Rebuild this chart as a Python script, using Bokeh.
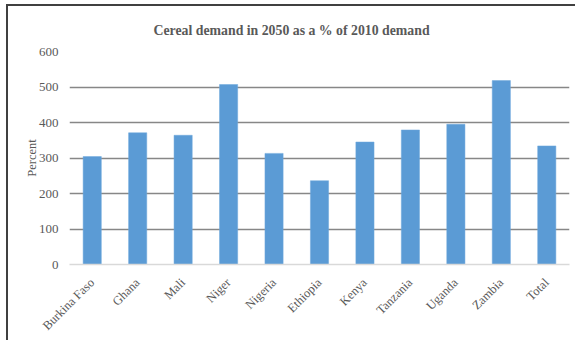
from bokeh.plotting import figure
from bokeh.models import Range1d, FixedTicker, ColumnDataSource
from bokeh.embed import file_html
from bokeh.resources import INLINE
import math

countries = ["Burkina Faso", "Ghana", "Mali", "Niger", "Nigeria", "Ethiopia",
             "Kenya", "Tanzania", "Uganda", "Zambia", "Total"]
demand_pct = [304, 371, 364, 507, 313, 236, 345, 379, 395, 518, 334]
y_ticks = [0, 100, 200, 300, 400, 500, 600]
title_text = "Cereal demand in 2050 as a % of 2010 demand"

FONT = "Liberation Serif"
TXT = "#595959"

src = ColumnDataSource(dict(country=countries, pct=demand_pct))

# chart box: framed along the top and left edges
p = figure(width=569, height=336, x_range=countries, y_range=Range1d(0, 600),
           output_backend="svg", toolbar_location=None,
           min_border_left=61, min_border_right=8, min_border_top=45,
           min_border_bottom=78,
           styles={"margin-left": "6px", "margin-top": "4px",
                   "border-top": "2px solid #404040",
                   "border-left": "2px solid #404040"})

p.vbar(x="country", top="pct", width=0.4, source=src,
       fill_color="#5b9bd5", line_color="#6fa8dc", line_width=0.5)

p.title.text = title_text
p.title.align = "left"
p.title.offset = 84
p.title.standoff = 28
p.title.text_font = FONT
p.title.text_font_size = "13.8px"
p.title.text_line_height = 0.8
p.title.text_color = TXT
p.title.text_font_style = "bold"

p.x_range.range_padding = 0
p.outline_line_color = None
p.background_fill_color = "white"

p.yaxis.ticker = FixedTicker(ticks=y_ticks)
p.yaxis.axis_line_color = None
p.yaxis.major_tick_line_color = None
p.yaxis.minor_tick_line_color = None
p.yaxis.major_label_text_font = FONT
p.yaxis.major_label_text_font_size = "13px"
p.yaxis.major_label_text_color = TXT
p.yaxis.major_label_standoff = 5
p.yaxis.axis_label = "Percent"
p.yaxis.axis_label_text_font = FONT
p.yaxis.axis_label_text_font_size = "12.5px"
p.yaxis.axis_label_text_font_style = "normal"
p.yaxis.axis_label_text_color = TXT
p.yaxis.axis_label_standoff = -3

p.xaxis.axis_line_color = "#d9d9d9"
p.xaxis.axis_line_width = 1.5
p.xaxis.major_tick_line_color = None
p.xaxis.minor_tick_line_color = None
p.xaxis.major_label_orientation = math.pi / 4
p.xaxis.major_label_text_font = FONT
p.xaxis.major_label_text_font_size = "12.5px"
p.xaxis.major_label_text_color = TXT
p.xaxis.major_label_standoff = 10

p.xgrid.grid_line_color = None
p.ygrid.ticker = FixedTicker(ticks=y_ticks[1:])
p.ygrid.grid_line_color = "#878787"
p.ygrid.grid_line_width = 1.5

open("out.html", "w").write(file_html(p, INLINE))
